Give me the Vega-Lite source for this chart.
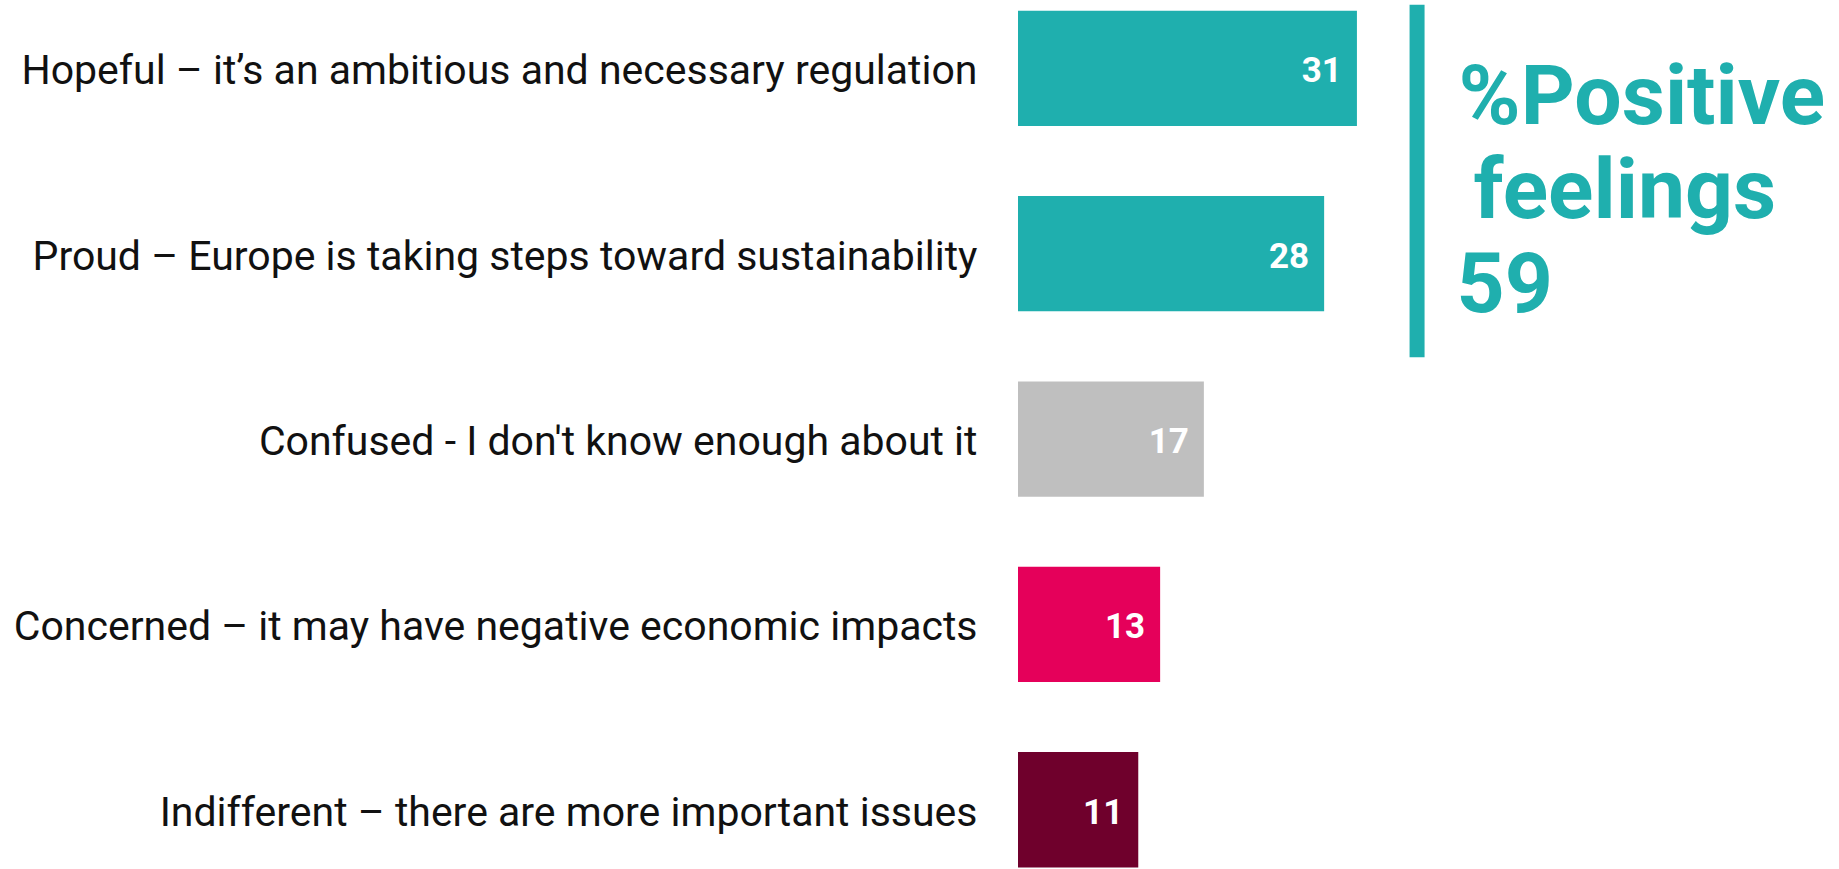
{
  "$schema": "https://vega.github.io/schema/vega-lite/v6.json",
  "autosize": "none",
  "width": 820,
  "height": 869,
  "padding": {"left": 1018, "top": 0, "right": 1, "bottom": 0},
  "background": "white",
  "config": {"view": {"stroke": null}, "font": "Roboto"},
  "datasets": {
    "bars": [
      {"label": "Hopeful – it’s an ambitious and necessary regulation", "value": 31, "group": "positive"},
      {"label": "Proud – Europe is taking steps toward sustainability", "value": 28, "group": "positive"},
      {"label": "Confused - I don't know enough about it", "value": 17, "group": "neutral"},
      {"label": "Concerned – it may have negative economic impacts", "value": 13, "group": "concerned"},
      {"label": "Indifferent – there are more important issues", "value": 11, "group": "indifferent"}
    ],
    "note": [
      {"x": 36.5, "tx": 40.3, "top": "Hopeful – it’s an ambitious and necessary regulation", "bottom": "Proud – Europe is taking steps toward sustainability", "text1": "%Positive", "text2": "feelings", "text3": "59"}
    ]
  },
  "layer": [
    {
      "data": {"name": "bars"},
      "mark": {"type": "bar"},
      "encoding": {
        "y": {
          "field": "label", "type": "nominal", "sort": null,
          "scale": {"paddingInner": 0.378, "paddingOuter": 0.0332, "align": 0.87},
          "axis": {"title": null, "ticks": false, "domain": false, "labelFontSize": 41, "labelFont": "Roboto", "labelColor": "#111111", "labelPadding": 41, "labelLimit": 1000, "labelBaseline": "middle", "labelOffset": 4}
        },
        "x": {
          "field": "value", "type": "quantitative",
          "scale": {"domain": [0, 75], "nice": false, "zero": true},
          "axis": null
        },
        "color": {
          "field": "group", "type": "nominal", "legend": null,
          "scale": {"domain": ["positive", "neutral", "concerned", "indifferent"], "range": ["#1FAFAE", "#BFBFBF", "#E5005A", "#6F002C"]}
        }
      }
    },
    {
      "data": {"name": "bars"},
      "mark": {"type": "text", "align": "right", "baseline": "middle", "dx": -15, "dy": 3, "fontSize": 35, "fontWeight": "bold", "font": "Roboto", "color": "white"},
      "encoding": {
        "y": {"field": "label", "type": "nominal", "sort": null},
        "x": {"field": "value", "type": "quantitative"},
        "text": {"field": "value", "type": "quantitative"}
      }
    },
    {
      "data": {"name": "note"},
      "mark": {"type": "rule", "strokeWidth": 15, "color": "#1FAFAE", "yOffset": -6, "y2Offset": 46},
      "encoding": {
        "x": {"field": "x", "type": "quantitative"},
        "y": {"field": "top", "type": "nominal", "bandPosition": 0, "sort": null},
        "y2": {"field": "bottom", "bandPosition": 1}
      }
    },
    {
      "data": {"name": "note"},
      "mark": {"type": "text", "align": "left", "baseline": "alphabetic", "fontSize": 84, "fontWeight": "bold", "font": "Roboto", "color": "#1FAFAE", "dy": 56},
      "encoding": {
        "x": {"field": "tx", "type": "quantitative"},
        "y": {"field": "top", "type": "nominal", "sort": null},
        "text": {"field": "text1"}
      }
    },
    {
      "data": {"name": "note"},
      "mark": {"type": "text", "align": "left", "baseline": "alphabetic", "fontSize": 84, "fontWeight": "bold", "font": "Roboto", "color": "#1FAFAE", "dx": 15, "dy": 150},
      "encoding": {
        "x": {"field": "tx", "type": "quantitative"},
        "y": {"field": "top", "type": "nominal", "sort": null},
        "text": {"field": "text2"}
      }
    },
    {
      "data": {"name": "note"},
      "mark": {"type": "text", "align": "left", "baseline": "alphabetic", "fontSize": 84, "fontWeight": "bold", "font": "Roboto", "color": "#1FAFAE", "dx": -2, "dy": 244},
      "encoding": {
        "x": {"field": "tx", "type": "quantitative"},
        "y": {"field": "top", "type": "nominal", "sort": null},
        "text": {"field": "text3"}
      }
    }
  ]
}
